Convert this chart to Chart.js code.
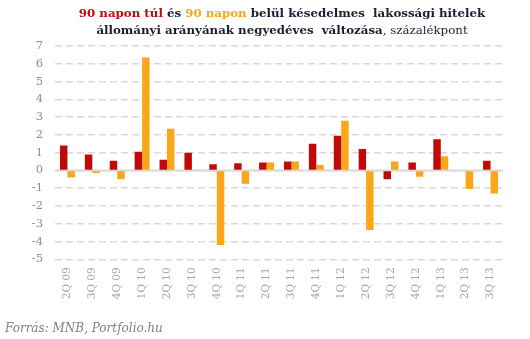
<!DOCTYPE html>
<html>
<head>
<meta charset="utf-8">
<script src="https://cdn.jsdelivr.net/npm/chart.js@4.4.1/dist/chart.umd.min.js"></script>
<style>
  html, body { margin: 0; padding: 0; background: #ffffff; }
  #wrap { width: 530px; height: 339px; position: relative; }
</style>
</head>
<body>
<div id="wrap"><canvas id="c" width="530" height="339"></canvas></div>
<script>
// Quarterly change in the share of overdue household loans, percentage points
const categories = ['2Q 09','3Q 09','4Q 09','1Q 10','2Q 10','3Q 10','4Q 10','1Q 11','2Q 11',
                    '3Q 11','4Q 11','1Q 12','2Q 12','3Q 12','4Q 12','1Q 13','2Q 13','3Q 13'];
// overdue more than 90 days
const over90 = [1.4, 0.9, 0.55, 1.05, 0.6, 1.0, 0.35, 0.4, 0.45,
                0.5, 1.5, 1.95, 1.2, -0.5, 0.45, 1.75, 0, 0.55];
// overdue within 90 days
const within90 = [-0.4, -0.15, -0.5, 6.35, 2.35, 0.05, -4.2, -0.75, 0.45,
                  0.5, 0.3, 2.8, -3.35, 0.5, -0.35, 0.8, -1.05, -1.3];

const RED = '#c00a0a';
const ORANGE = '#f9a61a';
const DARK = '#1d1d33';
const SERIF = '"DejaVu Serif", "Liberation Serif", serif';

const titleLines = [
  [['90 napon túl', RED, 'bold'], [' és ', DARK, 'bold'], ['90 napon', ORANGE, 'bold'],
   [' belül késedelmes  lakossági hitelek', DARK, 'bold']],
  [['állományi arányának negyedéves  változása', DARK, 'bold'], [', ', DARK, 'normal'],
   ['százalékpont', DARK, 'normal']]
];
const sourceText = 'Forrás: MNB, Portfolio.hu';

// Multi-coloured heading and source note
const textPlugin = {
  id: 'textPlugin',
  afterDraw(chart) {
    const ctx = chart.ctx;
    ctx.save();
    ctx.textBaseline = 'alphabetic';
    const size = 11.8;
    const baselines = [16.5, 33.5];
    const cx = 282;
    titleLines.forEach((segs, i) => {
      let total = 0;
      segs.forEach(s => { ctx.font = s[2] + ' ' + size + 'px ' + SERIF; total += ctx.measureText(s[0]).width; });
      let x = cx - total / 2;
      segs.forEach(s => {
        ctx.font = s[2] + ' ' + size + 'px ' + SERIF;
        ctx.fillStyle = s[1];
        ctx.textAlign = 'left';
        ctx.fillText(s[0], x, baselines[i]);
        x += ctx.measureText(s[0]).width;
      });
    });
    ctx.font = 'italic 12px ' + SERIF;
    ctx.fillStyle = '#7f7f7f';
    ctx.textAlign = 'left';
    ctx.fillText(sourceText, 5, 332);
    ctx.restore();
  },
  beforeDatasetsDraw(chart) {
    // solid zero line
    const y = chart.scales.y.getPixelForValue(0);
    const a = chart.chartArea;
    const ctx = chart.ctx;
    ctx.save();
    ctx.strokeStyle = '#d9d9d9';
    ctx.lineWidth = 2;
    ctx.beginPath();
    ctx.moveTo(a.left, y);
    ctx.lineTo(a.right, y);
    ctx.stroke();
    ctx.restore();
  }
};

new Chart(document.getElementById('c'), {
  type: 'bar',
  data: {
    labels: categories,
    datasets: [
      { label: '90 napon túl', data: over90, backgroundColor: RED,
        categoryPercentage: 0.6, barPercentage: 1.0 },
      { label: '90 napon belül', data: within90, backgroundColor: ORANGE,
        categoryPercentage: 0.6, barPercentage: 1.0 }
    ]
  },
  options: {
    responsive: false,
    animation: false,
    devicePixelRatio: 1,
    layout: { padding: { top: 46, right: 27, left: 0, bottom: 0 } },
    plugins: {
      legend: { display: false },
      title: { display: false },
      tooltip: { enabled: false }
    },
    scales: {
      x: {
        grid: { display: false, drawTicks: false },
        border: { display: false },
        ticks: {
          minRotation: 90, maxRotation: 90, autoSkip: false, padding: 8,
          color: '#a6a6a6',
          font: { family: SERIF, size: 10.5 }
        },
        afterFit(scale) { scale.height = 339 - 259.3; }
      },
      y: {
        min: -5, max: 7,
        ticks: {
          stepSize: 1, padding: 12,
          color: '#8b8b99',
          font: { family: SERIF, size: 11.5 }
        },
        grid: { color: '#d9d9d9', lineWidth: 1.5, drawTicks: false },
        border: { display: false, dash: [7, 4] },
        afterFit(scale) { scale.width = 55; }
      }
    }
  },
  plugins: [textPlugin]
});
</script>
</body>
</html>
